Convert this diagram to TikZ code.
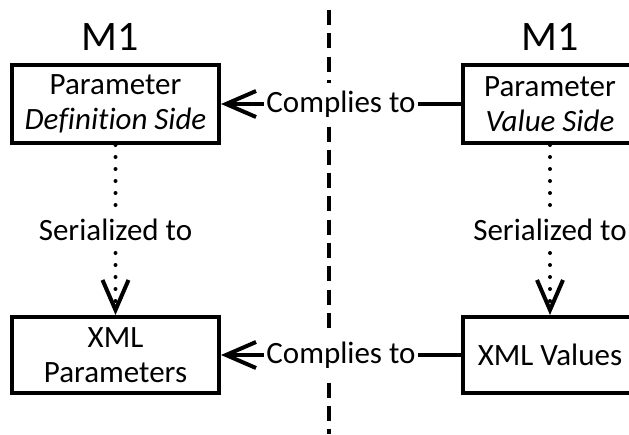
\documentclass[tikz,border=0pt]{standalone}
\usepackage{fontspec}
\setmainfont{Carlito}[Ligatures=NoCommon]
\usetikzlibrary{arrows.meta}
\begin{document}
\begin{tikzpicture}[x=1pt,y=-1pt,
  box/.style={draw, line width=4pt, minimum height=78pt, inner sep=0pt,
    align=center, font=\fontsize{31}{35}\selectfont},
  title/.style={anchor=base, inner sep=0pt, font=\fontsize{42}{42}\selectfont},
  lbl/.style={fill=white, inner xsep=2pt, inner ysep=8pt,
    font=\fontsize{31}{35}\selectfont},
  link/.style={line width=4pt},
  dots/.style={line width=4pt, line cap=round, dash pattern=on 0pt off 12pt},
  barb/.style={-{Straight Barb[length=30pt,width=26pt,line width=4pt]}},
  divider/.style={line width=4pt, dash pattern=on 15pt off 8.3pt}
]
\useasboundingbox (0,0) rectangle (629,434);
\clip (0,0) rectangle (629,434);

% dashed separator between definition side and value side
\coordinate (divtop) at (329,10);
\coordinate (divbot) at (329,434);
\draw[divider] (divtop) -- (divbot);

% headings
\node[title] (m1l) at (110,50) {M1};
\node[title] (m1r) at (550,50) {M1};

% boxes
\node[box, minimum width=207pt] (pd) at (115.5,104) {Parameter\\\textit{Definition Side}};
\node[box, minimum width=174pt] (pv) at (550,104) {Parameter\\\textit{Value Side}};
\node[box, minimum width=207pt, minimum height=76pt] (xp) at (115.5,355) {XML\\Parameters};
\node[box, minimum width=174pt, minimum height=76pt] (xv) at (550,355) {XML Values};

% connectors
\draw[link, barb] (pv) -- node[lbl] {Complies to} (pd);
\draw[link, barb] (xv) -- node[lbl] {Complies to} (xp);
\draw[dots, barb] (pd) -- node[lbl, inner ysep=4pt] {Serialized to} (xp);
\draw[dots, barb] (pv) -- node[lbl, inner ysep=4pt] {Serialized to} (xv);
\end{tikzpicture}
\end{document}
